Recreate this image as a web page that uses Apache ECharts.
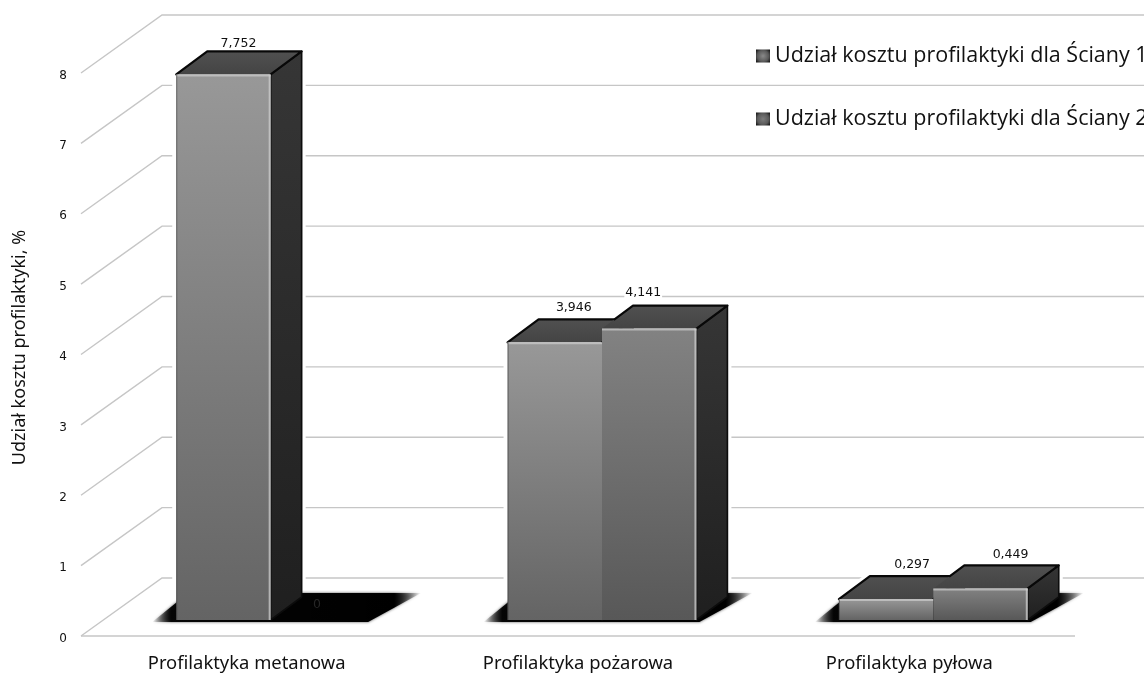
<!DOCTYPE html>
<html>
<head>
<meta charset="utf-8">
<style>html,body{margin:0;padding:0;background:#fff;overflow:hidden}#chart{width:1144px;height:673px}</style>
<script src="https://cdn.jsdelivr.net/npm/echarts@6/dist/echarts.min.js"></script>
</head>
<body>
<div id="chart"></div>
<script>
const categories = ['Profilaktyka metanowa', 'Profilaktyka pożarowa', 'Profilaktyka pyłowa'];
const wall1 = [7.752, 3.946, 0.297];
const wall2 = [0, 4.141, 0.449];
const yTicks = [0, 1, 2, 3, 4, 5, 6, 7, 8];
const seriesNames = ['Udział kosztu profilaktyki dla Ściany 1', 'Udział kosztu profilaktyki dla Ściany 2'];

// Fake-3D projection of the plot, in pixels
const WALL_DX = 81, WALL_DY = -58;     // front of the floor to the back wall
const FLOOR_DX = 24, FLOOR_DY = -16;   // front of the floor to the bar fronts
const DEPTH_DX = 31, DEPTH_DY = -23;   // depth of a bar
const BAR_SHARE = 0.285;               // bar width as a share of a category band
// Value label nudges from the middle of each bar's top edge: [wall, category] -> [dx, dy]
const labelNudge = [
  [[15, -31], [19, -35], [26, -34]],
  [[-1, -15], [-6, -36], [30, -34]]
];

function lin(top, bottom) {
  return new echarts.graphic.LinearGradient(0, 0, 0, 1, [
    { offset: 0, color: top }, { offset: 1, color: bottom }
  ]);
}

// Corner points of one bar, projected through the axes
function barBox(api, cat, value, wall) {
  const base = api.coord([cat, 0]);
  const top = api.coord([cat, value]);
  const w = api.size([1, 0])[0] * BAR_SHARE;
  const x0 = base[0] + FLOOR_DX + (wall - 1) * w;
  return { x0, x1: x0 + w, yTop: top[1] + FLOOR_DY, yBase: base[1] + FLOOR_DY };
}

function sidePoints(b) {
  return [[b.x1, b.yTop], [b.x1 + DEPTH_DX, b.yTop + DEPTH_DY], [b.x1 + DEPTH_DX, b.yBase + DEPTH_DY], [b.x1, b.yBase]];
}
function topPoints(b) {
  return [[b.x0, b.yTop], [b.x0 + DEPTH_DX, b.yTop + DEPTH_DY], [b.x1 + DEPTH_DX, b.yTop + DEPTH_DY], [b.x1, b.yTop]];
}

function renderWall(params, api) {
  const v = api.value(0);
  const front = api.coord([0, v]);
  const x0 = params.coordSys.x;
  const y = front[1];
  const line = { stroke: '#c6c6c6', lineWidth: 1.4, fill: 'none' };
  const kids = [
    { type: 'polyline', shape: { points: [[x0, y], [x0 + WALL_DX, y + WALL_DY], [api.getWidth(), y + WALL_DY]] }, style: line }
  ];
  if (v === 0) {
    kids.push({ type: 'line', shape: { x1: x0, y1: y, x2: x0 + params.coordSys.width, y2: y }, style: { stroke: '#c6c6c6', lineWidth: 1.6 } });
  }
  return { type: 'group', children: kids };
}

// White margin that keeps the wall lines off the bars
function renderHalo(params, api) {
  const cat = api.value(0), value = api.value(1), wall = api.value(2);
  if (!value) return null;
  const b = barBox(api, cat, value, wall);
  const pts = [[b.x0, b.yBase], [b.x0, b.yTop], [b.x0 + DEPTH_DX, b.yTop + DEPTH_DY], [b.x1 + DEPTH_DX, b.yTop + DEPTH_DY], [b.x1 + DEPTH_DX, b.yBase + DEPTH_DY], [b.x1, b.yBase]];
  return { type: 'polygon', shape: { points: pts }, style: { fill: '#fff', stroke: '#fff', lineWidth: 8 } };
}

// Soft black patch on the floor under each pair of bars
function renderFloorShadow(params, api) {
  const cat = api.value(0);
  const a = barBox(api, cat, 0, 0);
  const c = barBox(api, cat, 0, 1);
  const y = a.yBase;
  const fade = new echarts.graphic.LinearGradient(0, 0, 1, 0, [
    { offset: 0, color: 'rgba(0,0,0,0)' },
    { offset: 0.07, color: 'rgba(0,0,0,0.95)' },
    { offset: 0.9, color: 'rgba(0,0,0,1)' },
    { offset: 1, color: 'rgba(0,0,0,0)' }
  ]);
  return {
    type: 'polygon',
    shape: { points: [[a.x0 - 24, y + 2], [c.x1 + 3, y + 2], [c.x1 + 56, y + DEPTH_DY - 4], [a.x0 + 12, y + DEPTH_DY - 4]] },
    style: { fill: fade, shadowColor: 'rgba(0,0,0,0.7)', shadowBlur: 3 }
  };
}

function makeBarRenderer(wall, faceTop, faceBottom, neighbour) {
  return function (params, api) {
    const cat = api.value(0), value = api.value(1);
    const b = barBox(api, cat, value, wall);
    const text = value === 0 ? '0' : value.toFixed(3).replace('.', ',');
    const nudge = labelNudge[wall][cat];
    const labelX = (b.x0 + b.x1) / 2 + nudge[0];
    const labelY = b.yTop + nudge[1];
    const kids = [];
    if (value > 0) {
      const rightEdge = wall === 1 || neighbour[cat] === 0;
      const backY = b.yTop + DEPTH_DY;
      const edge = { stroke: '#080808', lineWidth: 2.2, lineCap: 'round', lineJoin: 'round', fill: 'none' };
      // Left slope of the top face: on the second bar only the stretch above the first bar shows
      let slopeFrom = [b.x0, b.yTop];
      if (wall === 1 && neighbour[cat] > 0) {
        const otherBack = barBox(api, cat, neighbour[cat], 0).yTop + DEPTH_DY;
        const t = Math.min(1, Math.max(0, (otherBack - b.yTop) / DEPTH_DY));
        slopeFrom = [b.x0 + DEPTH_DX * t, b.yTop + DEPTH_DY * t];
      }
      kids.push(
        { type: 'polygon', shape: { points: sidePoints(b) }, style: { fill: lin('#363636', '#1f1f1f'), stroke: '#0c0c0c', lineWidth: 1.6, lineJoin: 'round' } },
        { type: 'polygon', shape: { points: topPoints(b) }, style: { fill: lin('#505050', '#444444') } },
        { type: 'polyline', shape: { points: [slopeFrom, [b.x0 + DEPTH_DX, backY], [b.x1 + DEPTH_DX, backY], [b.x1, b.yTop]] }, style: edge },
        { type: 'rect', shape: { x: b.x0, y: b.yTop, width: b.x1 - b.x0, height: b.yBase - b.yTop }, style: { fill: lin(faceTop, faceBottom) } },
        { type: 'line', shape: { x1: b.x0, y1: b.yTop + 1, x2: b.x1, y2: b.yTop + 1 }, style: { stroke: 'rgba(205,205,205,0.7)', lineWidth: 2 } }
      );
      if (wall === 0) {
        kids.push({ type: 'line', shape: { x1: b.x0 + 0.5, y1: b.yTop, x2: b.x0 + 0.5, y2: b.yBase }, style: { stroke: 'rgba(60,60,60,0.6)', lineWidth: 1 } });
      }
      if (rightEdge) {
        kids.push({ type: 'line', shape: { x1: b.x1 - 1, y1: b.yTop, x2: b.x1 - 1, y2: b.yBase }, style: { stroke: 'rgba(205,205,205,0.75)', lineWidth: 2 } });
      }
    }
    const zero = value === 0;
    kids.push({
      type: 'text',
      style: {
        text, x: labelX, y: labelY, align: 'center', verticalAlign: 'middle',
        fill: zero ? '#262626' : '#111', font: '12.5px "DejaVu Sans"',
        backgroundColor: zero ? 'transparent' : '#fff', padding: [0, 1]
      }
    });
    return { type: 'group', children: kids };
  };
}

function legendSwatch(mid) {
  return new echarts.graphic.RadialGradient(0.5, 0.5, 0.72, [
    { offset: 0, color: mid }, { offset: 0.6, color: '#5a5a5a' }, { offset: 1, color: '#0c0c0c' }
  ]);
}

const pairs = values => values.map((v, i) => [i, v]);
const chart = echarts.init(document.getElementById('chart'), null, { renderer: 'canvas' });
chart.setOption({
  animation: false,
  backgroundColor: '#fff',
  grid: { left: 81, top: 73, width: 994, height: 563, outerBoundsMode: 'none' },
  legend: {
    orient: 'vertical', left: 756, top: 45, padding: 0, itemGap: 41,
    icon: 'rect', itemWidth: 14, itemHeight: 13, selectedMode: false,
    textStyle: { fontFamily: '"Open Sans"', fontSize: 21.5, color: '#111' },
    data: [
      { name: seriesNames[0], itemStyle: { color: legendSwatch('#8a8a8a') } },
      { name: seriesNames[1], itemStyle: { color: legendSwatch('#7c7c7c') } }
    ]
  },
  xAxis: {
    type: 'category', data: categories,
    axisLine: { show: false }, axisTick: { show: false },
    axisLabel: { margin: 19, fontFamily: '"Noto Sans"', fontSize: 18.4, color: '#111' }
  },
  yAxis: {
    type: 'value', min: 0, max: 8, interval: 1,
    splitLine: { show: false }, axisLine: { show: false }, axisTick: { show: false },
    axisLabel: {
      margin: 14, color: '#111', formatter: '{n|{value}}',
      rich: { n: { fontFamily: '"DejaVu Sans"', fontSize: 12, color: '#111', padding: [5, 0, 0, 0] } }
    },
    name: 'Udział kosztu profilaktyki, %', nameLocation: 'middle', nameGap: 52,
    nameTextStyle: { fontFamily: '"Noto Sans"', fontSize: 18, color: '#111', padding: [0, 0, 0, 14] }
  },
  series: [
    { type: 'custom', name: 'walls', silent: true, z: 1, renderItem: renderWall, data: yTicks.map(v => [v]), encode: { y: 0 } },
    { type: 'custom', name: 'halo', silent: true, z: 2, renderItem: renderHalo,
      data: wall1.map((v, i) => [i, v, 0]).concat(wall2.map((v, i) => [i, v, 1])), encode: { x: 0, y: 1 } },
    { type: 'custom', name: 'floor', silent: true, z: 3, renderItem: renderFloorShadow, data: categories.map((c, i) => [i]), encode: { x: 0 } },
    { type: 'custom', name: seriesNames[0], z: 4, renderItem: makeBarRenderer(0, '#989898', '#646464', wall2), data: pairs(wall1), encode: { x: 0, y: 1 } },
    { type: 'custom', name: seriesNames[1], z: 5, renderItem: makeBarRenderer(1, '#828282', '#585858', wall1), data: pairs(wall2), encode: { x: 0, y: 1 } }
  ]
});
</script>
</body>
</html>
